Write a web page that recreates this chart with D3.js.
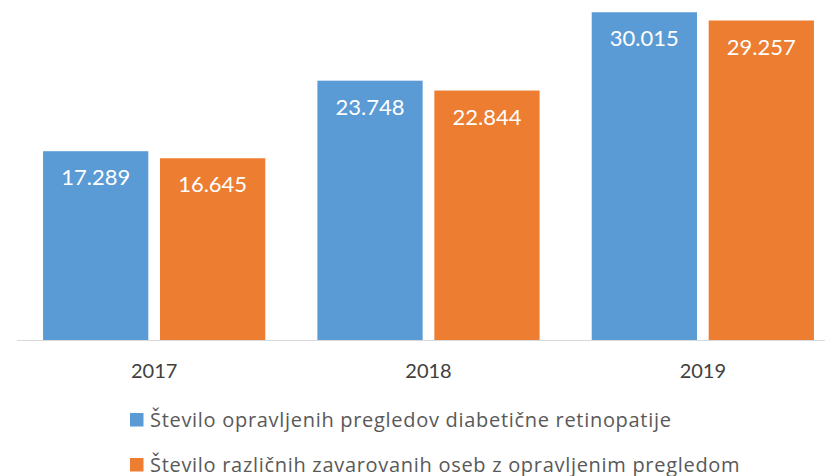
<!DOCTYPE html>
<html>
<head>
<meta charset="utf-8">
<script src="https://cdn.jsdelivr.net/npm/d3@7/dist/d3.min.js"></script>
<style>
  html, body { margin: 0; padding: 0; background: #fff; }
  svg { display: block; }
</style>
</head>
<body>
<svg id="chart" width="825" height="476"></svg>
<script>
// Years on the category axis
const years = ["2017", "2018", "2019"];
// Series names (legend order)
const seriesNames = [
  "Število opravljenih pregledov diabetične retinopatije",
  "Število različnih zavarovanih oseb z opravljenim pregledom"
];
// Values per series, one per year
const examinations = [17289, 23748, 30015];
const insuredPersons = [16645, 22844, 29257];
const seriesColors = ["#5B9BD5", "#ED7D31"];

const seriesValues = [examinations, insuredPersons];
const rows = years.map((y, i) => ({
  year: y,
  values: seriesNames.map((s, k) => ({ key: s, k, value: seriesValues[k][i] }))
}));

const svg = d3.select("#chart");
const baseline = 340;

const y = d3.scaleLinear().domain([0, 35000]).range([baseline, baseline - 35000 * 0.01092]);
const x0 = d3.scaleBand().domain(years).range([17, 840]).paddingInner(0.19).paddingOuter(0.095);
const x1 = d3.scaleBand().domain(seriesNames).range([0, x0.bandwidth()]).paddingInner(0.1);
const fmt = v => d3.format(",")(v).replace(/,/g, ".");

// Category axis line and year labels
const xAxis = d3.axisBottom(x0).tickSize(0).tickPadding(24);
const axisG = svg.append("g").attr("transform", `translate(0,${baseline})`).call(xAxis);
axisG.select(".domain").attr("stroke", "#D9D9D9").attr("stroke-width", 1)
  .attr("d", "M17,0.5H825");
axisG.selectAll("text")
  .style("font-family", "Lato, 'Open Sans', sans-serif")
  .style("font-size", "20px")
  .attr("fill", "#404040");

// Bars
const groups = svg.append("g").selectAll("g").data(rows).join("g")
  .attr("transform", d => `translate(${x0(d.year)},0)`);

groups.selectAll("rect").data(d => d.values).join("rect")
  .attr("x", d => x1(d.key))
  .attr("y", d => y(d.value))
  .attr("width", x1.bandwidth())
  .attr("height", d => baseline - y(d.value))
  .attr("fill", d => seriesColors[d.k]);

// Value labels inside the top of each bar
groups.selectAll("text.val").data(d => d.values).join("text")
  .attr("class", "val")
  .attr("x", d => x1(d.key) + x1.bandwidth() / 2)
  .attr("y", d => y(d.value) + 34)
  .attr("text-anchor", "middle")
  .style("font-family", "Lato, 'Open Sans', sans-serif")
  .style("font-size", "22px")
  .attr("fill", "#FFFFFF")
  .text(d => fmt(d.value));

// Legend
const legend = svg.append("g").selectAll("g").data(seriesNames).join("g")
  .attr("transform", (d, i) => `translate(130,${413 + i * 45})`);
legend.append("rect")
  .attr("width", 13.5).attr("height", 13.5)
  .attr("fill", (d, i) => seriesColors[i]);
legend.append("text")
  .attr("x", 20).attr("y", 13.5)
  .style("font-family", "'Open Sans', Lato, sans-serif")
  .style("font-size", "20px")
  .style("letter-spacing", "0.7px")
  .attr("fill", "#595959")
  .text(d => d);
</script>
</body>
</html>
